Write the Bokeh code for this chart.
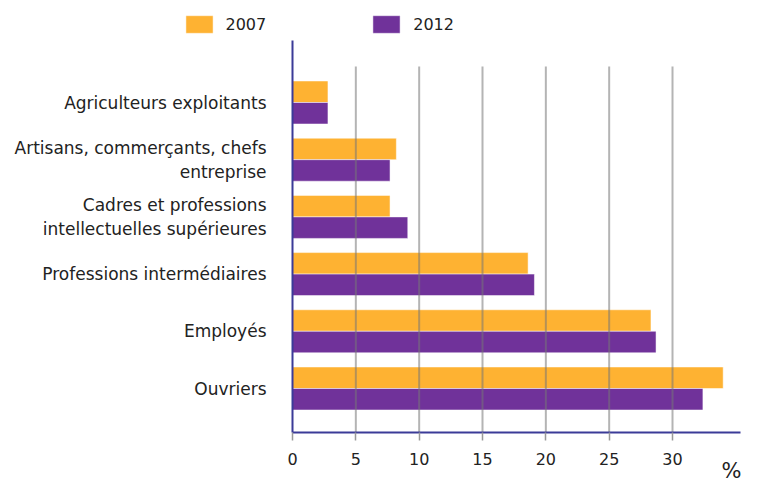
import numpy as np
from bokeh.plotting import figure
from bokeh.models import Range1d, FixedTicker, ColumnDataSource, Legend, LegendItem, Label
from bokeh.core.properties import value
from bokeh.embed import file_html
from bokeh.resources import INLINE

categories = ["Agriculteurs exploitants",
              "Artisans, commerçants, chefs\nentreprise",
              "Cadres et professions\nintellectuelles supérieures",
              "Professions intermédiaires",
              "Employés",
              "Ouvriers"]
values_2007 = [2.8, 8.2, 7.7, 18.6, 28.3, 34.0]
values_2012 = [2.8, 7.7, 9.1, 19.1, 28.7, 32.4]
x_ticks = [0, 5, 10, 15, 20, 25, 30]
series_names = ["2007", "2012"]
unit_label = "%"

ORANGE = "#FEB232"
PURPLE = "#70329A"
AXIS = "#3b3b98"
FONT = "DejaVu Sans"

W, H = 743, 485
AXIS_Y = 432                # px from top where the x axis sits
AXIS_X = 292                # px from left where value 0 sits
PX_PER_UNIT = 12.667
STEP_PX = 57.2              # px per category
LAST_CENTER = 388           # px from top of the last category centre

n = len(categories)
ypos = np.arange(n)[::-1].astype(float)  # first category on top
bar_h = 0.376
x_axis_end = 35.37

x_start = -AXIS_X / PX_PER_UNIT
x_end = (W - AXIS_X) / PX_PER_UNIT
y_start = -(H - LAST_CENTER) / STEP_PX
y_end = LAST_CENTER / STEP_PX
y_axis_bottom = -(AXIS_Y - LAST_CENTER) / STEP_PX
y_axis_top = (LAST_CENTER - 40) / STEP_PX
grid_top = (LAST_CENTER - 66) / STEP_PX

src = ColumnDataSource(dict(
    y07=ypos + bar_h / 2, y12=ypos - bar_h / 2,
    v07=values_2007, v12=values_2012))

p = figure(width=W, height=H, output_backend="svg", toolbar_location=None,
           x_range=Range1d(x_start, x_end), y_range=Range1d(y_start, y_end),
           y_axis_location=None,
           min_border_left=0, min_border_right=0, min_border_top=0,
           min_border_bottom=0)
p.outline_line_color = None
p.xgrid.visible = False
p.ygrid.visible = False
for g in p.grid:
    g.visible = False

r07 = p.hbar(y="y07", right="v07", left=0, height=bar_h, source=src,
             fill_color=ORANGE, line_color="white", line_alpha=0.5, line_width=1)
r12 = p.hbar(y="y12", right="v12", left=0, height=bar_h, source=src,
             fill_color=PURPLE, line_color="white", line_alpha=0.5, line_width=1)

# grid lines drawn over the bars
gx = [t for t in x_ticks if t > 0]
p.segment(x0=gx, x1=gx, y0=[y_axis_bottom] * len(gx), y1=[grid_top] * len(gx),
          line_color="#777777", line_alpha=0.55, line_width=2)

# vertical (category) axis line
p.segment(x0=[0], x1=[0], y0=[y_axis_bottom], y1=[y_axis_top],
          line_color=AXIS, line_width=2)

# category labels
p.text(x=[-26 / PX_PER_UNIT] * n, y=list(ypos), text=categories,
       text_align="right", text_baseline="middle",
       text_font=value(FONT), text_font_size="17px", text_color="#222222",
       text_line_height=1.2)

# x axis, pinned at the axis position inside the frame
xa = p.xaxis[0]
xa.fixed_location = y_axis_bottom
xa.ticker = FixedTicker(ticks=x_ticks)
xa.bounds = (0, x_axis_end)
xa.axis_line_color = AXIS
xa.axis_line_width = 2
xa.major_tick_in = 0
xa.major_tick_out = 8
xa.major_tick_line_color = "#999999"
xa.major_tick_line_width = 1.5
xa.minor_tick_line_color = None
xa.major_label_standoff = 12
xa.major_label_text_font = FONT
xa.major_label_text_font_size = "16px"
xa.major_label_text_color = "#222222"

p.add_layout(Label(x=(741 - AXIS_X) / PX_PER_UNIT, y=-(470 - LAST_CENTER) / STEP_PX,
                   text=unit_label, text_align="right", text_baseline="middle",
                   text_font=FONT, text_font_size="21px", text_color="#222222"))

legend = Legend(items=[LegendItem(label=series_names[0], renderers=[r07]),
                       LegendItem(label=series_names[1], renderers=[r12])],
                orientation="horizontal", location=(181.5, H - 35),
                glyph_width=34, glyph_height=22, label_standoff=10,
                spacing=103, padding=0, margin=0,
                border_line_alpha=0, background_fill_alpha=0,
                label_text_font=FONT, label_text_font_size="16px",
                label_text_color="#222222")
p.add_layout(legend, "center")

open("out.html", "w").write(file_html(p, INLINE))
